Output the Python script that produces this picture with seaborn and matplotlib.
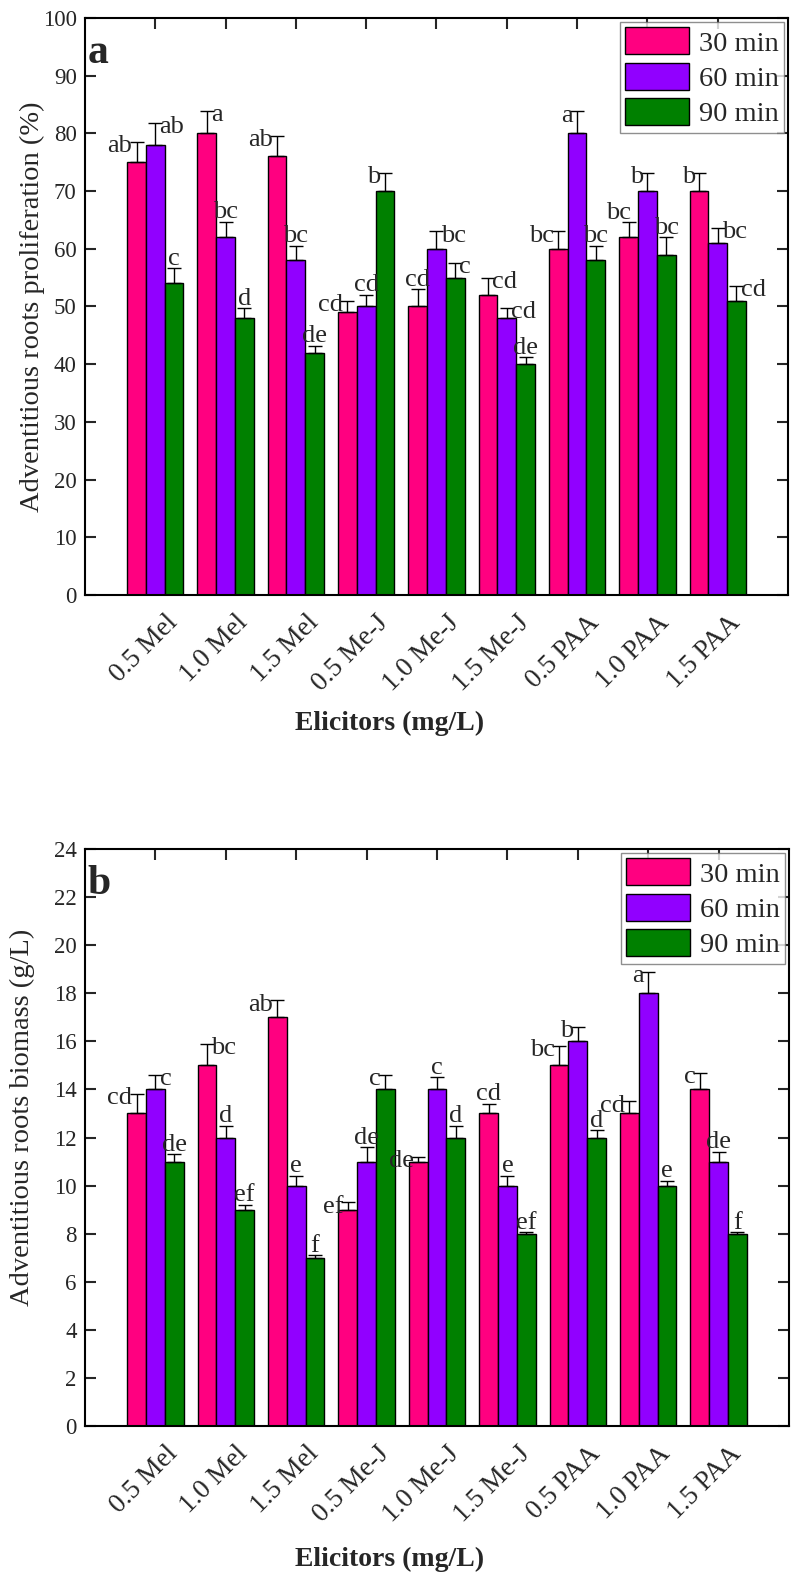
import numpy as np
import pandas as pd
import seaborn as sns
import matplotlib
matplotlib.use('Agg')
import matplotlib.pyplot as plt
from matplotlib.transforms import ScaledTranslation

# ---- data ----
elicitors = ['0.5 Mel', '1.0 Mel', '1.5 Mel', '0.5 Me-J', '1.0 Me-J', '1.5 Me-J',
             '0.5 PAA', '1.0 PAA', '1.5 PAA']
times = ['30 min', '60 min', '90 min']

prolif_30 = [75, 80, 76, 49, 50, 52, 60, 62, 70]
prolif_60 = [78, 62, 58, 50, 60, 48, 80, 70, 61]
prolif_90 = [54, 48, 42, 70, 55, 40, 58, 59, 51]
prolif_err_30 = [3.5, 3.9, 3.5, 2.0, 3.0, 3.0, 3.0, 2.6, 3.1]
prolif_err_60 = [3.8, 2.7, 2.5, 2.0, 3.0, 1.7, 3.8, 3.1, 2.6]
prolif_err_90 = [2.6, 1.7, 1.2, 3.1, 2.5, 1.2, 2.5, 3.0, 2.5]
prolif_sig_30 = ['ab', 'a', 'ab', 'cd', 'cd', 'cd', 'bc', 'bc', 'b']
prolif_sig_60 = ['ab', 'bc', 'bc', 'cd', 'bc', 'cd', 'a', 'b', 'bc']
prolif_sig_90 = ['c', 'd', 'de', 'b', 'c', 'de', 'bc', 'bc', 'cd']

biomass_30 = [13, 15, 17, 9, 11, 13, 15, 13, 14]
biomass_60 = [14, 12, 10, 11, 14, 10, 16, 18, 11]
biomass_90 = [11, 9, 7, 14, 12, 8, 12, 10, 8]
biomass_err_30 = [0.8, 0.9, 0.7, 0.3, 0.2, 0.4, 0.8, 0.5, 0.7]
biomass_err_60 = [0.6, 0.5, 0.4, 0.6, 0.5, 0.4, 0.6, 0.9, 0.4]
biomass_err_90 = [0.3, 0.2, 0.1, 0.6, 0.5, 0.05, 0.3, 0.2, 0.05]
biomass_sig_30 = ['cd', 'bc', 'ab', 'ef', 'de', 'cd', 'bc', 'cd', 'c']
biomass_sig_60 = ['c', 'd', 'e', 'de', 'c', 'e', 'b', 'a', 'de']
biomass_sig_90 = ['de', 'ef', 'f', 'c', 'd', 'ef', 'd', 'e', 'f']

# where each letter sits relative to its error bar
# l = left, r = right, c = above, u = above and to the left
side_a = [['l', 'r', 'c'], ['r', 'c', 'c'], ['l', 'c', 'c'], ['l', 'c', 'l'], ['c', 'r', 'r'],
          ['r', 'r', 'c'], ['l', 'l', 'c'], ['u', 'l', 'c'], ['l', 'r', 'r']]
side_b = [['l', 'r', 'c'], ['r', 'c', 'c'], ['l', 'c', 'c'], ['l', 'c', 'l'], ['l', 'c', 'c'],
          ['c', 'c', 'c'], ['l', 'l', 'c'], ['l', 'l', 'c'], ['l', 'c', 'c']]

colors = ['#FF0080', '#9100FF', '#008000']

sns.set_style('ticks')
plt.rcParams['font.family'] = ['Liberation Serif', 'DejaVu Serif']


def make_df(v30, v60, v90):
    rows = []
    for t, vals in zip(times, [v30, v60, v90]):
        for e, v in zip(elicitors, vals):
            rows.append({'elicitor': e, 'time': t, 'value': v})
    return pd.DataFrame(rows)


def draw_panel(fig, ax, df, errs, sigs, sides, ymax, ystep, ylabel, ylab_xy, xlab_y, letter):
    sns.barplot(data=df, x='elicitor', y='value', hue='time', order=elicitors,
                hue_order=times, palette=colors, saturation=1, errorbar=None, width=0.8,
                edgecolor='black', linewidth=1.0, ax=ax)
    for k, (cont, err, sig) in enumerate(zip(ax.containers, errs, sigs)):
        xs = np.array([p.get_x() + p.get_width() / 2 for p in cont])
        ys = np.array([p.get_height() for p in cont])
        err = np.array(err)
        ax.errorbar(xs, ys, yerr=[np.zeros_like(err), err], fmt='none',
                    ecolor='black', elinewidth=1.0, capsize=5, capthick=1.0, zorder=3)
        for i in range(len(xs)):
            s = sides[i][k]
            top = ys[i] + err[i]
            if s == 'l':
                ax.annotate(sig[i], (xs[i], top), xytext=(-3, -3), textcoords='offset points',
                            ha='right', va='center', fontsize=19)
            elif s == 'r':
                ax.annotate(sig[i], (xs[i], top), xytext=(3, -3), textcoords='offset points',
                            ha='left', va='center', fontsize=19)
            elif s == 'u':
                ax.annotate(sig[i], (xs[i], top), xytext=(2, -1), textcoords='offset points',
                            ha='right', va='bottom', fontsize=19)
            else:
                ax.annotate(sig[i], (xs[i], top), xytext=(0, -1), textcoords='offset points',
                            ha='center', va='bottom', fontsize=19)

    ax.set_xlim(-1, 9)
    ax.set_ylim(0, ymax)
    ax.set_yticks(np.arange(0, ymax + 0.1, ystep))
    ax.set_xticks(range(len(elicitors)))
    ax.tick_params(direction='in', length=8, width=1.5, top=True, right=True,
                   labelsize=16.5, pad=6)
    ax.set_xticklabels(elicitors, rotation=45, ha='right', rotation_mode='anchor', fontsize=19.5)
    for sp in ax.spines.values():
        sp.set_linewidth(1.5)
        sp.set_color('black')
    ax.set_ylabel(ylabel, fontsize=20.5)
    ax.yaxis.set_label_coords(*ylab_xy)
    ax.set_xlabel('Elicitors (mg/L)', fontsize=20, fontweight='bold')
    ax.xaxis.set_label_coords(0.433, xlab_y)
    ax.text(0.004, 0.922, letter, transform=ax.transAxes, fontsize=30,
            fontweight='bold', va='baseline', ha='left')

    handles, labels = ax.get_legend_handles_labels()
    leg = ax.legend(handles, labels, loc='upper right', fontsize=20.5, frameon=True,
                    fancybox=False, edgecolor='0.45', handlelength=2.25, handleheight=1.08,
                    handletextpad=0.35, borderpad=0.18, labelspacing=0.22,
                    borderaxespad=0.15)
    leg.get_frame().set_linewidth(1.0)
    leg.set_zorder(10)

    # nudge the rotated category labels down and to the right, as in the original
    shift = ScaledTranslation(7 / 72, -5 / 72, fig.dpi_scale_trans)
    for lab in ax.xaxis.get_majorticklabels():
        lab.set_transform(lab.get_transform() + shift)


fig = plt.figure(figsize=(7.97, 15.74), dpi=100)
ax1 = fig.add_axes([0.1066, 0.6220, 0.8821, 0.3666])
ax2 = fig.add_axes([0.1066, 0.0940, 0.8834, 0.3666])

draw_panel(fig, ax1, make_df(prolif_30, prolif_60, prolif_90),
           [prolif_err_30, prolif_err_60, prolif_err_90],
           [prolif_sig_30, prolif_sig_60, prolif_sig_90], side_a,
           100, 10, 'Adventitious roots proliferation (%)', (-0.057, 0.5), -0.2, 'a')
draw_panel(fig, ax2, make_df(biomass_30, biomass_60, biomass_90),
           [biomass_err_30, biomass_err_60, biomass_err_90],
           [biomass_sig_30, biomass_sig_60, biomass_sig_90], side_b,
           24, 2, 'Adventitious roots biomass (g/L)', (-0.071, 0.535), -0.21, 'b')

fig.savefig('out.png', dpi=100)
